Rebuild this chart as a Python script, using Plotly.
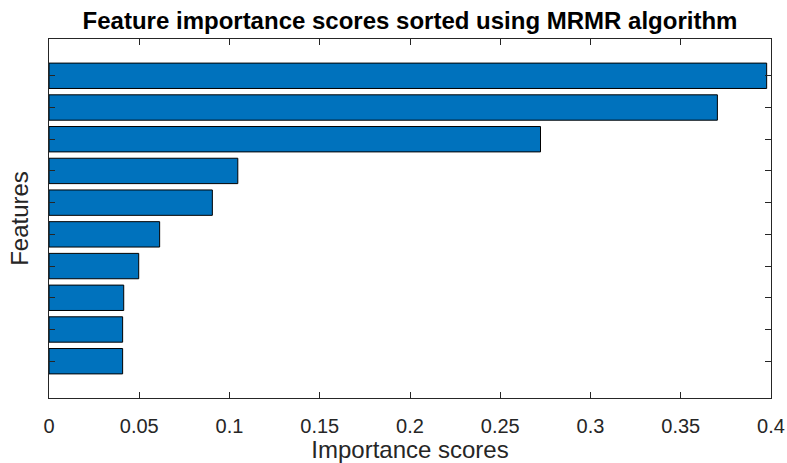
import plotly.graph_objects as go

# MRMR importance scores, listed from the top bar down
positions = [1, 2, 3, 4, 5, 6, 7, 8, 9, 10]
scores = [0.3976, 0.3703, 0.2723, 0.1046, 0.0905, 0.0613, 0.0497, 0.0414, 0.0408, 0.0408]

x_ticks = [0, 0.05, 0.1, 0.15, 0.2, 0.25, 0.3, 0.35, 0.4]
x_tick_labels = ["0", "0.05", "0.1", "0.15", "0.2", "0.25", "0.3", "0.35", "0.4"]

title_text = "Feature importance scores sorted using MRMR algorithm"
x_title = "Importance scores"
y_title = "Features"

axis_color = "#262626"
font_family = "Liberation Sans, Arial, sans-serif"

fig = go.Figure(
    go.Bar(
        x=scores,
        y=positions,
        orientation="h",
        width=0.8,
        marker=dict(color="#0072BD", line=dict(color="#000000", width=1)),
        hoverinfo="x",
    )
)

fig.update_layout(
    width=787,
    height=463,
    margin=dict(l=49, r=16, t=39, b=65),
    paper_bgcolor="white",
    plot_bgcolor="white",
    showlegend=False,
    font=dict(family=font_family, color=axis_color),
    title=dict(
        text="<b>" + title_text + "</b>",
        font=dict(family=font_family, size=24, color="#000000"),
        x=0.5,
        xref="paper",
        xanchor="center",
        y=1 - 21 / 463,
        yref="container",
        yanchor="middle",
    ),
)

fig.update_xaxes(
    range=[0, 0.4],
    tickvals=x_ticks,
    ticktext=x_tick_labels,
    ticks="inside",
    ticklen=6,
    tickcolor=axis_color,
    tickfont=dict(size=20, color=axis_color),
    ticklabelstandoff=10,
    showline=True,
    linecolor=axis_color,
    linewidth=1,
    mirror="ticks",
    showgrid=False,
    zeroline=False,
    automargin=False,
    title=dict(text=x_title, font=dict(size=24, color=axis_color), standoff=4),
)

fig.update_yaxes(
    range=[11.16, -0.16],
    tickvals=positions,
    showticklabels=False,
    ticks="inside",
    ticklen=6,
    tickcolor=axis_color,
    showline=True,
    linecolor=axis_color,
    linewidth=1,
    mirror="ticks",
    showgrid=False,
    zeroline=False,
    automargin=False,
    title=dict(text=y_title, font=dict(size=24, color=axis_color), standoff=12),
)

fig.write_html("out.html")
